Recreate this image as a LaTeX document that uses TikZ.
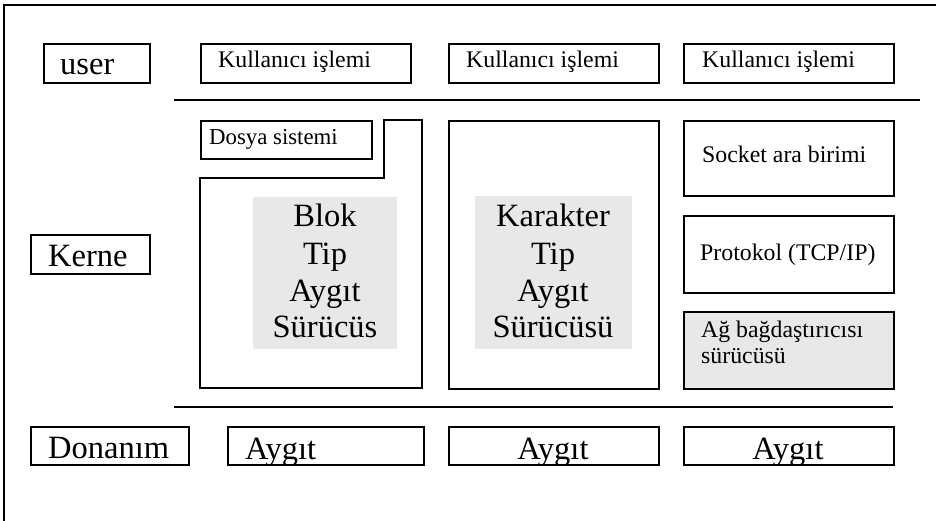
\documentclass[tikz,border=0pt]{standalone}
\usepackage{fontspec}
\setmainfont{Liberation Serif}
\begin{document}
\begin{tikzpicture}[x=1pt,y=-1pt,
  frame/.style={line width=1.8pt},
  box/.style={draw,line width=1.8pt,rectangle,inner sep=0pt,anchor=north west},
  shaded/.style={box,fill=shadegray},
  plate/.style={fill=shadegray,draw=none,rectangle,inner sep=0pt,anchor=north west},
  rule/.style={line width=1.8pt},
  small/.style={inner sep=0pt,anchor=base west,font=\fontsize{23.8}{27}\selectfont},
  big/.style={inner sep=0pt,anchor=base west,font=\fontsize{32.5}{36}\selectfont},
  bigc/.style={inner sep=0pt,anchor=base,font=\fontsize{32.5}{36}\selectfont},
]
\definecolor{shadegray}{HTML}{E8E8E8}
\useasboundingbox (0,0) rectangle (936,521);
\clip (0,0) rectangle (936,521);

% outer frame (right and bottom edges lie outside the page)
\draw[frame] (4,540) -- (4,5) -- (950,5);

% ---------- user level ----------
\node[box,minimum width=106pt,minimum height=39pt] (user) at (43,43) {};
\node[big] at (60,75) {user};
\node[box,minimum width=210pt,minimum height=39pt] (up1) at (200,43) {};
\node[box,minimum width=210pt,minimum height=39pt] (up2) at (448,43) {};
\node[box,minimum width=210pt,minimum height=39pt] (up3) at (683,43) {};
\node[small] at (218,68) {Kullanıcı işlemi};
\node[small] at (466,68) {Kullanıcı işlemi};
\node[small] at (702,68) {Kullanıcı işlemi};

\coordinate (topL) at (174,100);
\coordinate (topR) at (920,100);
\draw[rule] (topL) -- (topR);

% ---------- kernel level ----------
\node[box,minimum width=119pt,minimum height=39pt] (kerne) at (30,234) {};
\node[big] at (48,266) {Kerne};

% file system and block device driver
\node[box,minimum width=171pt,minimum height=38pt] (fs) at (200,120) {};
\node[small,font=\fontsize{22.8}{26}\selectfont] at (209,145) {Dosya sistemi};
\draw[box] (200,178) -- (384,178) -- (384,120) -- (422,120) -- (422,388) -- (200,388) -- cycle;
\node[plate,minimum width=144pt,minimum height=152pt] (blokbg) at (253,197) {};
\node[bigc] at (325,227) {Blok};
\node[bigc] at (325,264) {Tip};
\node[bigc] at (325,301) {Aygıt};
\node[bigc] at (325,337) {Sürücüs};

% character device driver
\node[box,minimum width=210pt,minimum height=268pt] (chr) at (448,120) {};
\node[plate,minimum width=157pt,minimum height=153pt] (chrbg) at (475,196) {};
\node[bigc] at (553,227) {Karakter};
\node[bigc] at (553,264) {Tip};
\node[bigc] at (553,301) {Aygıt};
\node[bigc] at (553,337) {Sürücüsü};

% network stack
\node[box,minimum width=210pt,minimum height=75pt] (sock) at (683,120) {};
\node[small] at (702,163) {Socket ara birimi};
\node[box,minimum width=210pt,minimum height=77pt] (proto) at (683,215) {};
\node[small] at (700,260) {Protokol (TCP/IP)};
\node[shaded,minimum width=210pt,minimum height=77pt] (nic) at (683,311) {};
\node[small] at (701,337) {Ağ bağdaştırıcısı};
\node[small] at (701,363) {sürücüsü};

\coordinate (botL) at (174,407);
\coordinate (botR) at (893,407);
\draw[rule,line width=1.5pt] (botL) -- (botR);

% ---------- hardware level ----------
\node[box,minimum width=158pt,minimum height=38pt] (hw) at (30,426) {};
\node[big] at (48,458) {Donanım};
\node[box,minimum width=196pt,minimum height=38pt] (dev1) at (227,426) {};
\node[box,minimum width=210pt,minimum height=38pt] (dev2) at (448,426) {};
\node[box,minimum width=210pt,minimum height=38pt] (dev3) at (683,426) {};
\begin{scope}
  \clip (dev1.north west) rectangle (dev1.south east);
  \node[big] at (245,459) {Aygıt};
\end{scope}
\begin{scope}
  \clip (dev2.north west) rectangle (dev2.south east);
  \node[bigc] at (553,459) {Aygıt};
\end{scope}
\begin{scope}
  \clip (dev3.north west) rectangle (dev3.south east);
  \node[bigc] at (788,459) {Aygıt};
\end{scope}
\end{tikzpicture}
\end{document}
